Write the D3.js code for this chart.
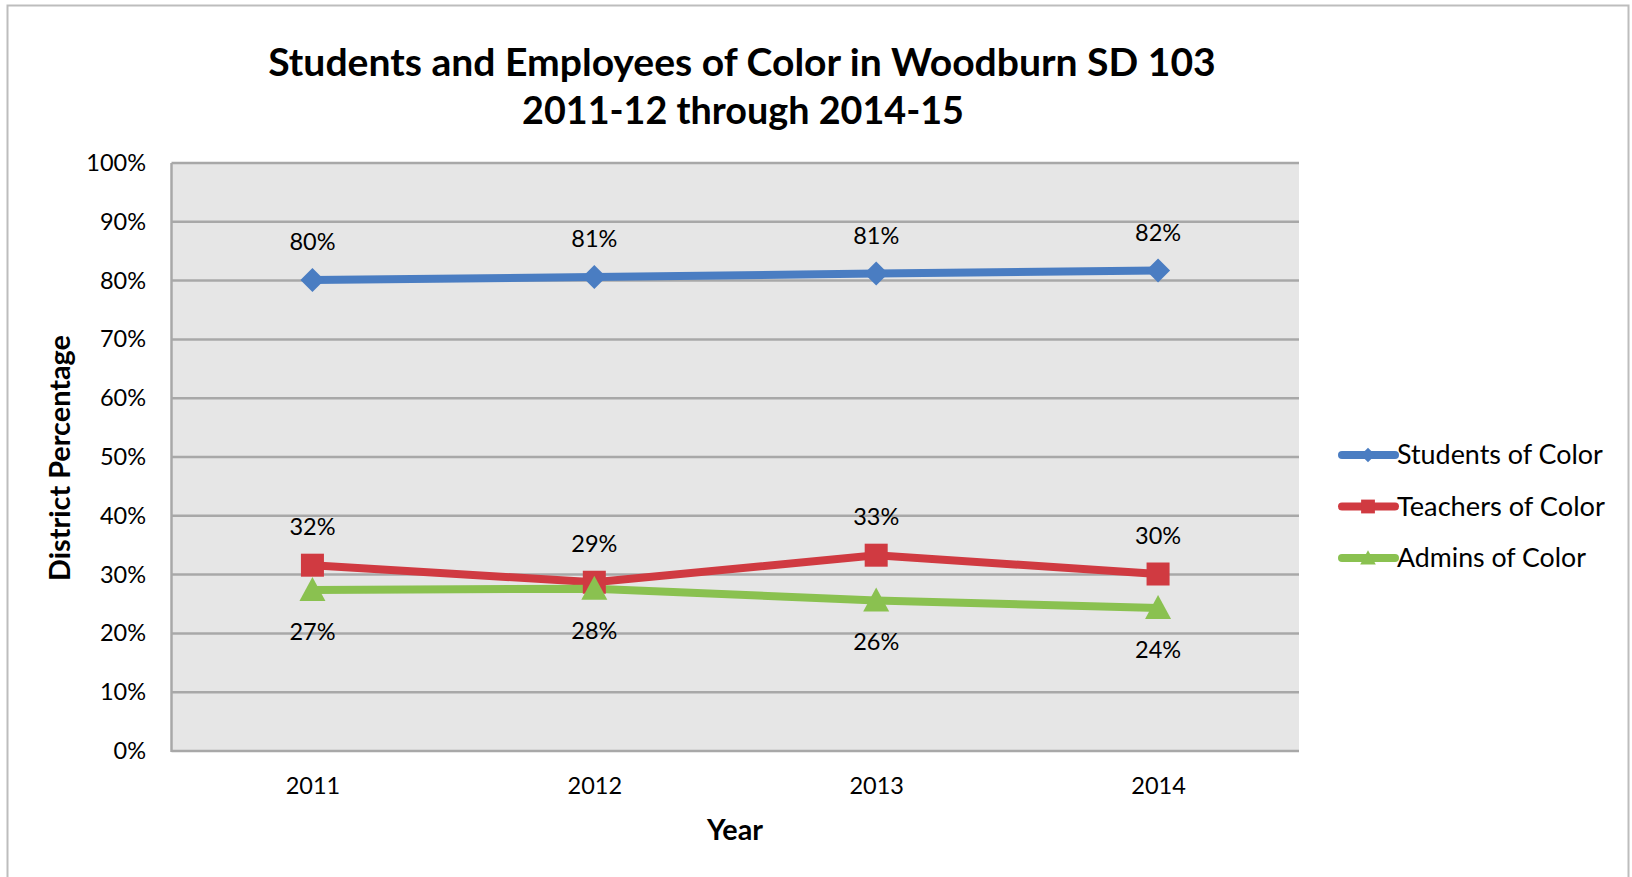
<!DOCTYPE html>
<html>
<head>
<meta charset="utf-8">
<script src="https://cdn.jsdelivr.net/npm/d3@7"></script>
<style>
  body{margin:0;background:#fff;}
  text{font-family:Lato,"Open Sans",sans-serif;fill:#000;}
</style>
</head>
<body>
<div id="chart"></div>
<script>
let years=['2011','2012','2013','2014']
let students=[80.1,80.6,81.2,81.7]
let teachers=[31.6,28.7,33.3,30.1]
let admins=[27.4,27.6,25.6,24.3]
let studentLabels=['80%','81%','81%','82%']
let teacherLabels=['32%','29%','33%','30%']
let adminLabels=['27%','28%','26%','24%']
let yTicks=[0,10,20,30,40,50,60,70,80,90,100]
let seriesNames=['Students of Color','Teachers of Color','Admins of Color']

let w=1632,h=877
let pLeft=171.5,pRight=1299,pTop=163,pBottom=751

let svg=d3.select('#chart').append('svg').attr('width',w).attr('height',h)

// outer frame
svg.append('rect').attr('x',7.5).attr('y',5.5).attr('width',1621).attr('height',h+20)
  .attr('fill','#fff').attr('stroke','#bdbdbd').attr('stroke-width',2)

let x=d3.scalePoint().domain(years).range([pLeft,pRight]).padding(0.5)
let y=d3.scaleLinear().domain([0,100]).range([pBottom,pTop])

// plot area
svg.append('rect').attr('x',pLeft).attr('y',pTop).attr('width',pRight-pLeft).attr('height',pBottom-pTop).attr('fill','#e6e6e6')

// gridlines
svg.append('g').selectAll('line').data(yTicks).enter().append('line')
  .attr('x1',pLeft).attr('x2',pRight).attr('y1',d=>y(d)).attr('y2',d=>y(d))
  .attr('stroke','#a8a8a8').attr('stroke-width',2.5)
svg.append('line').attr('x1',pLeft).attr('x2',pLeft).attr('y1',pTop).attr('y2',pBottom+1)
  .attr('stroke','#a8a8a8').attr('stroke-width',2.5)

// y axis
let yAxis=d3.axisLeft(y).tickValues(yTicks).tickSize(0).tickPadding(0).tickFormat(d=>d+'%')
let gy=svg.append('g').attr('transform','translate(146,0)').call(yAxis)
gy.select('.domain').remove()
gy.selectAll('text').style('font-size','23.5px').style('font-family','Lato,sans-serif').attr('fill','#000')

// x axis
let xAxis=d3.axisBottom(x).tickSize(0).tickPadding(0)
let gx=svg.append('g').attr('transform','translate(0,'+(pBottom+26)+')').call(xAxis)
gx.select('.domain').remove()
gx.selectAll('text').style('font-size','23.5px').style('font-family','Lato,sans-serif').attr('fill','#000')

// titles
function fit(sel,target){
  let len=sel.node().getComputedTextLength()
  let fs=parseFloat(sel.style('font-size'))
  sel.style('font-size',(fs*target/len)+'px')
}
let t1=svg.append('text').text('Students and Employees of Color in Woodburn SD 103')
  .attr('x',742).attr('y',76).attr('text-anchor','middle').style('font-weight','bold').style('font-size','36px')
fit(t1,948)
let t2=svg.append('text').text('2011-12 through 2014-15')
  .attr('x',743).attr('y',124).attr('text-anchor','middle').style('font-weight','bold').style('font-size','36px')
fit(t2,442)

let yr=svg.append('text').text('Year').attr('x',735).attr('y',840).attr('text-anchor','middle')
  .style('font-weight','bold').style('font-size','26px')
fit(yr,56)
let yt=svg.append('text').text('District Percentage').attr('transform','translate(70,458) rotate(-90)')
  .attr('text-anchor','middle').style('font-weight','bold').style('font-size','26px')
fit(yt,246)

let series=[
  {name:seriesNames[0],vals:students,labels:studentLabels,color:'#4a7dc2',shape:'diamond',dy:-30},
  {name:seriesNames[1],vals:teachers,labels:teacherLabels,color:'#d03a41',shape:'square',dy:-30},
  {name:seriesNames[2],vals:admins,labels:adminLabels,color:'#8ac150',shape:'triangle',dy:50}
]

let line=d3.line().x((d,i)=>x(years[i])).y(d=>y(d))
function marker(g,shape,color){
  if(shape=='diamond'){
    g.append('path').attr('d','M0,-12L12,0L0,12L-12,0Z').attr('fill',color)
  } else if(shape=='square'){
    g.append('rect').attr('x',-11.5).attr('y',-11.5).attr('width',23).attr('height',23).attr('fill',color)
  } else {
    g.append('path').attr('d','M0,-13L13,11L-13,11Z').attr('fill',color)
  }
}

series.forEach(s=>{
  svg.append('path').datum(s.vals).attr('d',line).attr('fill','none')
    .attr('stroke',s.color).attr('stroke-width',8)
})
series.forEach(s=>{
  s.vals.forEach((v,i)=>{
    let g=svg.append('g').attr('transform','translate('+x(years[i])+','+y(v)+')')
    marker(g,s.shape,s.color)
    svg.append('text').text(s.labels[i]).attr('x',x(years[i])).attr('y',y(v)+s.dy)
      .attr('text-anchor','middle').style('font-size','23.5px')
  })
})

// legend
let leg=svg.append('g')
series.forEach((s,i)=>{
  let ly=455+i*51.5
  let g=leg.append('g').attr('transform','translate(1340,'+ly+')')
  g.append('line').attr('x1',2).attr('x2',55).attr('stroke',s.color).attr('stroke-width',8).attr('stroke-linecap','round')
  let m=g.append('g').attr('transform','translate(28,0) scale(0.6)')
  marker(m,s.shape,s.color)
  let lt=g.append('text').text(s.name).attr('x',57).attr('dy','0.35em').style('font-size','26px')
  fit(lt,s.name=='Admins of Color'?189:(s.name=='Teachers of Color'?208:206))
})
</script>
</body>
</html>
